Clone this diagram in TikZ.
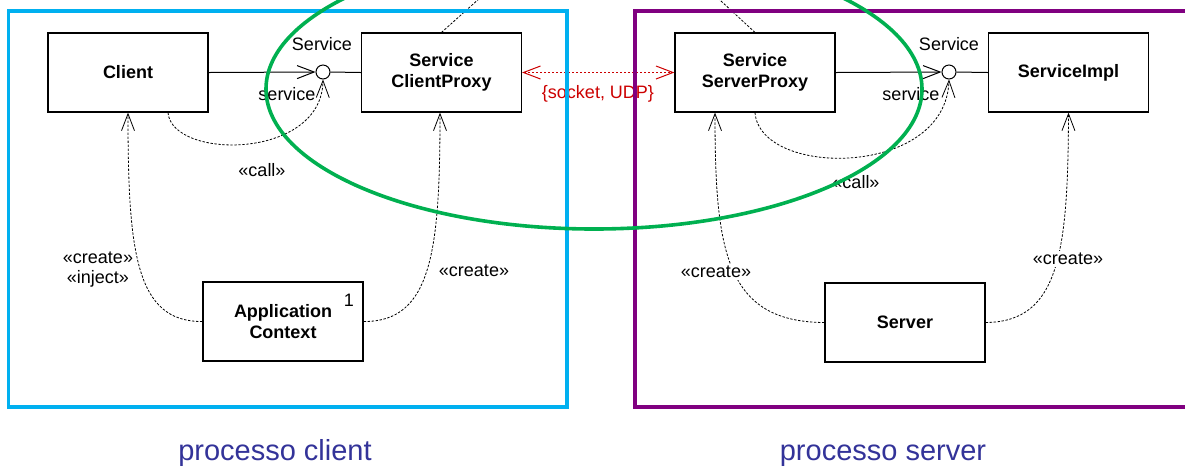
\documentclass[tikz,border=0pt]{standalone}
\usepackage{fontspec}
\setmainfont{Liberation Sans}
\usetikzlibrary{arrows.meta,calc}
\definecolor{clientframe}{RGB}{0,176,240}
\definecolor{serverframe}{RGB}{128,0,128}
\definecolor{proxygroup}{RGB}{0,176,80}
\definecolor{netred}{RGB}{204,0,0}
\definecolor{captionblue}{RGB}{51,51,153}
\begin{document}
\begin{tikzpicture}[x=0.5pt,y=-0.5pt,
  classbox/.style={draw=black, line width=0.6pt, fill=white,
    minimum width=80pt, minimum height=39.5pt, inner sep=0pt, align=center,
    font=\bfseries\fontsize{9}{10.5}\selectfont},
  lollipop/.style={circle, draw=black, line width=0.5pt, fill=white,
    minimum size=7pt, inner sep=0pt},
  lbl/.style={inner sep=1pt, align=center, font=\fontsize{9}{11}\selectfont},
  masklbl/.style={lbl, fill=white},
  caption/.style={anchor=base, text=captionblue, font=\fontsize{14.5}{17}\selectfont},
  opentip/.style={-{Straight Barb[length=8.5pt,width=6.5pt]}},
  assoc/.style={line width=0.5pt, opentip},
  dep/.style={line width=0.4pt, dash pattern=on 1.2pt off 0.8pt, opentip},
  note/.style={line width=0.4pt, dash pattern=on 1.2pt off 0.8pt},
  netlink/.style={netred, line width=0.5pt, dash pattern=on 1pt off 1pt,
    {Straight Barb[length=8.5pt,width=6.5pt]}-{Straight Barb[length=8.5pt,width=6.5pt]}},
  frame/.style={line width=1.6pt},
]
\clip (0,0) rectangle (1185,468);

% classes
\node[classbox] (client) at (128,72.5)   {Client};
\node[classbox] (scp)    at (441.5,72.5) {Service\\ClientProxy};
\node[classbox] (ssp)    at (755,72.5)   {Service\\ServerProxy};
\node[classbox] (impl)   at (1068.5,72.5){ServiceImpl};
\node[classbox] (app)    at (283,321.5)  {Application\\Context};
\node[classbox] (server) at (905,322.5)  {Server};
\node[lbl] (mult) at (349,300) {1};

% provided interfaces
\node[lollipop] (lolL) at (323,72) {};
\node[lollipop] (lolR) at (949,72) {};
\node[lbl] (ifL)  at (322,44) {Service};
\node[lbl] (roleL) at (287,94) {service};
\node[lbl] (ifR)  at (949,44) {Service};
\node[lbl] (roleR) at (911,94) {service};

% required interfaces and links
\draw[assoc] (client.east) -- (lolL.west);
\draw[line width=0.5pt] (lolL.east) -- (scp.west);
\draw[assoc] (ssp.east) -- (lolR.west);
\draw[line width=0.5pt] (lolR.east) -- (impl.west);

% call dependencies
\draw[dep] ($(client.south)+(40,0)$) .. controls (172,160) and (322,160) .. (lolL.south);
\draw[dep] (ssp.south) .. controls (760,178) and (946,178) .. (lolR.south);
\node[lbl] (callL) at (262,170) {«call»};
\node[lbl] (callR) at (856,182) {«call»};

% creation dependencies
\draw[dep] (app.west) .. controls (135,322) and (128,250) .. (client.south);
\draw[dep] (app.east) .. controls (432,322) and (440,250) .. ($(scp.south)+(-1.5,0)$);
\draw[dep] (server.west) .. controls (725,322) and (715,250) .. ($(ssp.south)+(-40,0)$);
\draw[dep] (server.east) .. controls (1060,322) and (1068,250) .. (impl.south);
\node[lbl] (crL) at (98,270) {«create»\\[-1pt]«inject»};
\node[lbl] (crA) at (474,271) {«create»};
\node[masklbl] (crS) at (716,272) {«create»};
\node[masklbl] (crI) at (1068,259) {«create»};

% notes above the picture
\coordinate (noteL) at (490,-11);
\coordinate (noteR) at (708,-11);
\draw[note] (scp.north) -- (noteL);
\draw[note] (ssp.north) -- (noteR);

% network channel between the proxies
\draw[netlink] (scp.east) -- (ssp.west);
\node[lbl, text=netred] (net) at (598,94) {\{socket, UDP\}};

% process frames
\draw[frame, clientframe] (8.5,11) rectangle (567,407);
\draw[frame, serverframe] (1200,11) -- (635,11) -- (635,407) -- (1200,407);
\node[caption] (capC) at (275,460) {processo client};
\node[caption] (capS) at (883,460) {processo server};

% proxy grouping
\draw[proxygroup, line width=1.8pt] (594,89) ellipse [x radius=328, y radius=140];
\end{tikzpicture}
\end{document}
